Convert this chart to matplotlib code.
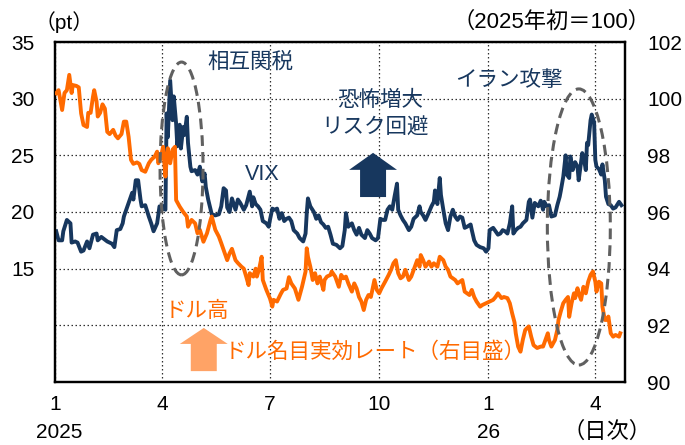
import matplotlib
matplotlib.use('Agg')
import matplotlib.pyplot as plt
import pandas as pd
from matplotlib.patches import Ellipse, FancyArrow

plt.rcParams['font.family'] = ['Liberation Sans', 'Noto Sans CJK JP']

start = pd.Timestamp('2025-01-01')

vix_day = [1, 3, 6, 7, 10, 13, 14, 17, 19, 22, 24, 27, 29, 32, 35, 36, 39, 44, 48, 50,
           52, 55, 57, 58, 61, 63, 65, 66, 68, 70, 72, 73, 76, 79, 81, 83, 86, 88, 90, 91,
           93, 94, 95, 97, 99, 100, 102, 103, 105, 106, 108, 109, 111, 112, 114, 115, 118, 120, 122, 124,
           126, 127, 129, 132, 135, 138, 140, 142, 144, 145, 147, 149, 152, 154, 156, 159, 161, 164, 166, 167,
           169, 171, 173, 175, 178, 180, 181, 183, 185, 187, 189, 191, 193, 195, 197, 199, 201, 204, 206, 209,
           211, 212, 213, 215, 218, 220, 222, 224, 226, 228, 230, 232, 234, 237, 240, 242, 244, 245, 247, 250,
           252, 254, 256, 258, 261, 263, 265, 267, 270, 272, 274, 276, 278, 280, 282, 284, 286, 288, 289, 291,
           293, 295, 298, 300, 302, 305, 307, 308, 310, 312, 315, 317, 319, 320, 322, 324, 325, 327, 329, 331,
           333, 335, 337, 339, 341, 343, 345, 347, 350, 351, 353, 355, 358, 361, 363, 365, 366, 369, 371, 373,
           375, 377, 379, 381, 383, 385, 386, 388, 390, 392, 394, 397, 399, 400, 402, 404, 407, 409, 411, 412,
           414, 416, 418, 421, 423, 425, 426, 428, 430, 431, 433, 434, 436, 438, 440, 441, 443, 444, 446, 447,
           448, 449, 451, 452, 454, 455, 456, 458, 460, 461, 463, 464, 466, 468, 470, 472, 475, 477]
vix_val = [18.3, 17.5, 17.5, 18.3, 19.3, 19.0, 17.3, 17.4, 17.3, 16.5, 16.6, 17.4, 16.8, 18.0, 18.1, 17.5, 17.8, 17.4, 17.2, 16.9,
           18.4, 18.5, 19.0, 19.6, 20.5, 21.1, 21.7, 21.1, 22.8, 22.8, 21.1, 20.5, 20.6, 19.6, 19.0, 18.3, 19.0, 20.5, 20.2, 20.5,
           20.2, 28.7, 26.6, 31.6, 28.1, 30.2, 27.8, 25.8, 27.7, 25.6, 27.5, 26.8, 28.4, 26.1, 24.0, 23.6, 23.7, 23.3, 24.0, 22.7,
           23.4, 22.2, 21.1, 19.8, 19.7, 19.8, 20.5, 22.1, 21.9, 20.4, 20.0, 21.2, 20.2, 21.1, 20.8, 20.2, 20.6, 21.8, 20.5, 21.3,
           20.7, 20.5, 20.2, 19.2, 19.0, 18.7, 19.3, 20.3, 20.2, 20.3, 19.4, 19.9, 19.2, 19.4, 19.5, 19.2, 18.4, 18.1, 17.7, 17.4,
           18.1, 19.9, 21.2, 20.5, 20.0, 19.4, 19.7, 19.1, 18.9, 18.6, 18.7, 18.0, 17.2, 17.1, 16.8, 17.0, 18.4, 19.9, 18.7, 19.0,
           18.4, 18.0, 18.6, 18.0, 17.7, 18.4, 18.1, 17.7, 17.5, 17.7, 19.4, 19.3, 19.3, 20.2, 20.5, 20.2, 21.4, 22.5, 20.2, 19.7,
           19.3, 19.0, 18.4, 18.7, 19.4, 19.7, 20.5, 20.0, 19.7, 19.3, 20.0, 20.5, 20.9, 21.9, 20.7, 23.0, 21.5, 20.2, 19.0, 18.4,
           19.6, 20.2, 19.6, 19.3, 19.6, 19.5, 18.6, 18.7, 18.9, 18.4, 17.5, 17.1, 16.9, 16.8, 16.5, 16.8, 18.4, 18.6, 18.3, 18.0,
           18.1, 18.4, 18.3, 18.1, 19.0, 20.5, 18.1, 18.4, 18.6, 18.7, 19.0, 19.3, 20.9, 21.1, 19.5, 20.8, 20.5, 21.0, 20.2, 20.9,
           20.5, 20.6, 19.6, 19.7, 20.6, 21.35, 21.9, 23.1, 25.0, 23.3, 23.0, 24.9, 23.7, 24.4, 24.0, 22.8, 24.4, 25.2, 24.3, 23.7,
           26.1, 25.9, 28.1, 28.6, 27.9, 24.6, 24.0, 23.8, 23.3, 24.2, 22.8, 21.35, 20.7, 20.6, 20.3, 20.4, 20.9, 20.6]

usd_day = [1, 3, 6, 8, 10, 12, 14, 15, 18, 20, 22, 24, 27, 28, 30, 32, 33, 35, 36, 38,
           40, 42, 44, 46, 49, 51, 53, 56, 58, 60, 62, 64, 66, 69, 71, 73, 76, 79, 81, 84,
           86, 87, 89, 91, 93, 94, 95, 97, 99, 101, 102, 105, 108, 111, 112, 115, 118, 120, 122, 125,
           128, 131, 132, 135, 138, 140, 143, 145, 147, 149, 152, 154, 157, 159, 161, 163, 164, 167, 169, 170,
           172, 174, 175, 178, 181, 183, 184, 187, 190, 192, 195, 197, 199, 202, 205, 208, 211, 212, 213, 215,
           217, 219, 221, 223, 226, 227, 229, 232, 233, 236, 239, 241, 243, 245, 247, 250, 252, 254, 256, 258,
           260, 262, 264, 266, 269, 271, 273, 275, 278, 281, 283, 285, 287, 289, 291, 293, 295, 296, 298, 300,
           303, 305, 307, 308, 310, 312, 315, 317, 319, 322, 324, 327, 329, 331, 333, 335, 337, 339, 341, 343,
           345, 347, 349, 351, 353, 355, 358, 360, 363, 366, 369, 371, 373, 376, 378, 381, 383, 385, 387, 388,
           390, 392, 394, 396, 399, 401, 403, 406, 409, 411, 413, 415, 416, 418, 421, 423, 424, 426, 428, 430,
           432, 433, 435, 437, 438, 440, 441, 443, 445, 447, 449, 451, 453, 455, 456, 458, 460, 461, 463, 465,
           466, 468, 470, 472, 475, 476]
usd_val = [100.19, 100.3, 99.6, 100.2, 100.3, 100.84, 100.2, 100.48, 100.45, 100.4, 99.48, 99.07, 99.0, 99.5, 99.5, 100.07, 100.3, 99.9, 99.37, 99.5,
           99.8, 99.65, 98.83, 98.75, 98.9, 98.7, 98.6, 98.75, 99.19, 99.19, 98.65, 97.84, 97.7, 97.75, 97.7, 97.48, 97.42, 97.72, 97.84, 97.96,
           98.13, 97.72, 97.9, 98.3, 97.25, 97.84, 98.25, 97.72, 98.2, 98.3, 96.42, 96.19, 96.0, 95.84, 95.48, 95.72, 95.6, 95.25, 95.37, 94.95,
           95.25, 95.72, 95.84, 95.37, 95.13, 94.9, 94.54, 94.3, 94.54, 94.7, 94.3, 94.2, 94.07, 94.0, 93.72, 93.42, 93.84, 93.72, 94.0, 93.72,
           94.0, 94.42, 93.6, 93.25, 92.95, 92.66, 92.9, 92.84, 93.1, 93.25, 93.3, 93.7, 93.48, 93.3, 92.9, 93.36, 93.9, 94.72, 94.42, 94.07,
           93.6, 93.84, 93.48, 93.72, 93.25, 93.6, 93.72, 93.78, 93.9, 93.72, 93.36, 93.78, 93.66, 93.72, 93.48, 93.19, 93.48, 93.3, 93.0, 92.84,
           92.54, 92.9, 93.07, 93.0, 93.6, 93.25, 93.13, 93.31, 93.54, 93.78, 93.96, 94.19, 94.3, 93.84, 93.66, 93.72, 93.96, 93.84, 93.6, 93.72,
           94.07, 94.3, 94.07, 94.48, 94.3, 94.07, 94.25, 94.07, 94.19, 94.07, 94.42, 94.3, 94.07, 93.96, 93.72, 93.66, 93.6, 93.48, 93.54, 93.6,
           93.19, 93.13, 93.07, 93.25, 93.0, 92.84, 92.66, 92.72, 92.78, 92.84, 92.9, 93.0, 93.13, 92.96, 93.0, 92.96, 92.78, 92.42, 92.1, 91.72,
           91.25, 91.07, 91.5, 91.84, 91.96, 91.6, 91.3, 91.2, 91.25, 91.25, 91.48, 91.72, 91.48, 91.25, 91.48, 91.84, 92.19, 92.5, 92.78, 92.9,
           93.0, 92.3, 92.78, 93.13, 92.96, 93.31, 93.13, 92.9, 93.36, 93.13, 93.54, 93.78, 93.9, 93.54, 93.19, 93.54, 93.48, 92.66, 92.19, 92.19,
           92.31, 91.72, 91.6, 91.66, 91.6, 91.72]

tick_dates = ['2025-01-01', '2025-04-01', '2025-07-01', '2025-10-01', '2026-01-01', '2026-04-01']
tick_labels = ['1', '4', '7', '10', '1', '4']
left_ticks = [10, 15, 20, 25, 30, 35]
left_labels = ['', '15', '20', '25', '30', '35']
right_ticks = [90, 92, 94, 96, 98, 100, 102]

NAVY = '#17375e'
ORANGE = '#ff6a00'

W, H = 685, 445
fig = plt.figure(figsize=(W / 100, H / 100), dpi=100)
ax = fig.add_axes([55 / W, 63 / H, 570 / W, 340 / H])
ax2 = ax.twinx()

vix_dates = start + pd.to_timedelta(vix_day, unit='D')
usd_dates = start + pd.to_timedelta(usd_day, unit='D')

ax.plot(vix_dates, vix_val, color=NAVY, lw=2.8, solid_joinstyle='round', zorder=3)
ax2.plot(usd_dates, usd_val, color=ORANGE, lw=2.8, solid_joinstyle='round', zorder=3)

ax.set_xlim(start, pd.Timestamp('2026-04-26'))
ax.set_ylim(5, 35)
ax2.set_ylim(90, 102)

ax.set_xticks(pd.to_datetime(tick_dates))
ax.set_xticklabels(tick_labels)
ax.set_yticks(left_ticks)
ax.set_yticklabels(left_labels)
ax2.set_yticks(right_ticks)
ax2.set_yticklabels([str(t) for t in right_ticks])

ax.grid(True, linestyle=(0, (1.2, 2.0)), color='#303030', lw=0.9)
ax.set_axisbelow(True)

ax.tick_params(axis='x', length=0, labelsize=15, pad=9)
ax.tick_params(axis='y', length=0, labelsize=15, pad=15)
ax2.tick_params(axis='y', length=0, labelsize=15, pad=16)

for a in (ax, ax2):
    for s in a.spines.values():
        s.set_color('black')
        s.set_linewidth(1.6)

# Ellipses
ax2.add_patch(Ellipse((0.222, 0.628), 0.0754, 0.626, transform=ax.transAxes, fill=False,
                      ec='#606060', lw=2.2, ls=(0, (3.5, 2.0)), zorder=5))
ax2.add_patch(Ellipse((0.919, 0.456), 0.1105, 0.812, transform=ax.transAxes, fill=False,
                      ec='#606060', lw=2.2, ls=(0, (3.5, 2.0)), zorder=5))

# Arrows
ax2.add_patch(FancyArrow(0.558, 0.544, 0, 0.13, width=0.0456, head_width=0.084, head_length=0.05,
                         length_includes_head=True, transform=ax.transAxes, color=NAVY, lw=0, zorder=6))
ax2.add_patch(FancyArrow(0.261, 0.032, 0, 0.127, width=0.0456, head_width=0.084, head_length=0.047,
                         length_includes_head=True, transform=ax.transAxes, color='#ffa366', lw=0, zorder=6))

# Annotations
fs = 15.5
ax2.text(0.268, 0.941, '相互関税', transform=ax.transAxes, color=NAVY, fontsize=fs, ha='left', va='center')
ax2.text(0.333, 0.609, 'VIX', transform=ax.transAxes, color=NAVY, fontsize=fs, ha='left', va='center')
ax2.text(0.570, 0.829, '恐怖増大', transform=ax.transAxes, color=NAVY, fontsize=fs, ha='center', va='center')
ax2.text(0.561, 0.747, 'リスク回避', transform=ax.transAxes, color=NAVY, fontsize=fs, ha='center', va='center')
ax2.text(0.702, 0.888, 'イラン攻撃', transform=ax.transAxes, color=NAVY, fontsize=fs, ha='left', va='center')
ax2.text(0.193, 0.206, 'ドル高', transform=ax.transAxes, color=ORANGE, fontsize=fs, ha='left', va='center')
ax2.text(0.298, 0.088, 'ドル名目実効レート（右目盛）', transform=ax.transAxes, color=ORANGE, fontsize=fs,
         ha='left', va='center')

fig.text(64 / W, 1 - 22 / H, '（pt）', fontsize=15, ha='center', va='center')
fig.text(551 / W, 1 - 22 / H, '（2025年初＝100）', fontsize=16, ha='center', va='center')
fig.text(59 / W, 13 / H, '2025', fontsize=15, ha='center', va='center')
fig.text(489 / W, 13 / H, '26', fontsize=15, ha='center', va='center')
fig.text(607 / W, 13 / H, '（日次）', fontsize=16, ha='center', va='center')

fig.savefig('out.png', dpi=100)
